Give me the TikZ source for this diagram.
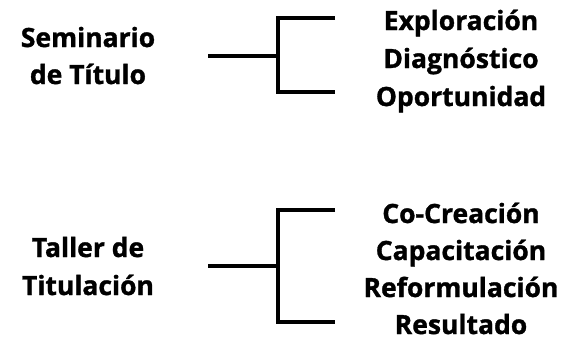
\documentclass[tikz,border=0pt]{standalone}
\usepackage{fontspec}
\setmainfont{Open Sans}[BoldFeatures={FakeBold=1.2}]
\begin{document}
\begin{tikzpicture}[x=1pt,y=-1pt,
  lbl/.style={font=\fontsize{26.5}{37}\selectfont\bfseries, inner sep=0pt, anchor=base},
  brk/.style={line width=3.3pt}]
\useasboundingbox (0,0) rectangle (564,341);
% Seminario de Título
\node[lbl] (sem1) at (88,47) {Seminario};
\node[lbl] (sem2) at (88,84) {de Título};
\node[lbl] (e1) at (461,30) {Exploración};
\node[lbl] (e2) at (461,68) {Diagnóstico};
\node[lbl] (e3) at (461,106) {Oportunidad};
\coordinate (s1) at (208,56);
\coordinate (j1) at (278,56);
\coordinate (t1) at (335,18);
\coordinate (b1) at (335,92);
\draw[brk] (s1) -- (j1);
\draw[brk] (t1) -| (j1) |- (b1);
% Taller de Titulación
\node[lbl] (tal1) at (88,257) {Taller de};
\node[lbl] (tal2) at (88,295) {Titulación};
\node[lbl] (c1) at (461,223) {Co-Creación};
\node[lbl] (c2) at (461,260) {Capacitación};
\node[lbl] (c3) at (461,297) {Reformulación};
\node[lbl] (c4) at (461,334) {Resultado};
\coordinate (s2) at (208,266);
\coordinate (j2) at (278,266);
\coordinate (t2) at (335,210);
\coordinate (b2) at (335,322);
\draw[brk] (s2) -- (j2);
\draw[brk] (t2) -| (j2) |- (b2);
\end{tikzpicture}
\end{document}
